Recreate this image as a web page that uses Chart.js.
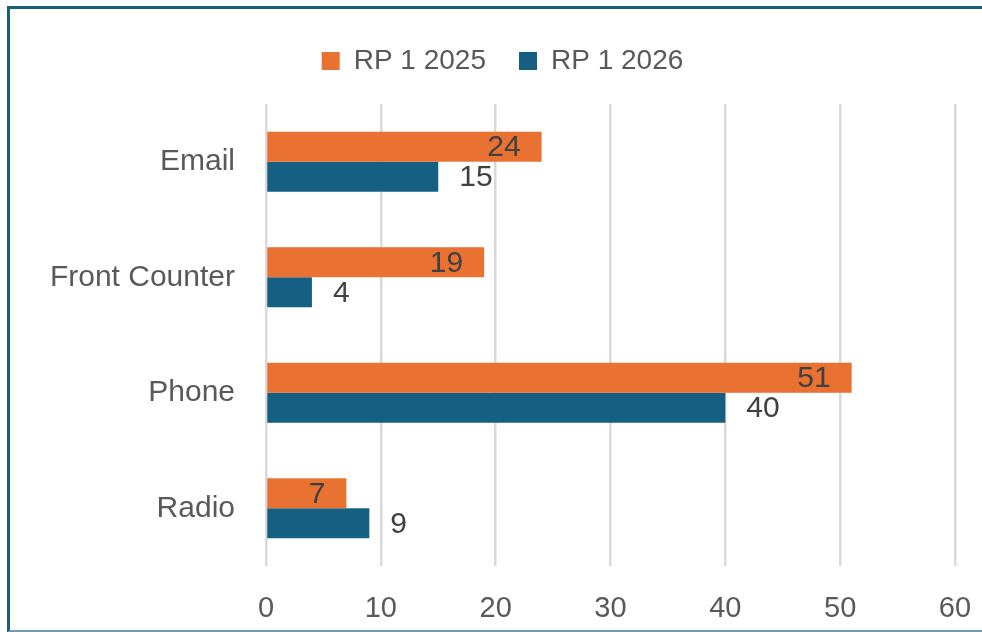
<!DOCTYPE html>
<html>
<head>
<meta charset="utf-8">
<script src="https://cdn.jsdelivr.net/npm/chart.js@4/dist/chart.umd.min.js"></script>
<style>
  html, body { margin: 0; padding: 0; background: #fff; overflow: hidden; width: 982px; height: 632px; }
  #frame {
    position: absolute; left: 7px; top: 6px; width: 1005px; height: 621px;
    border-left: 3px solid #1B5E80; border-top: 3px solid #1B5E80; border-bottom: 2px solid #7397AD;
  }
  canvas { display: block; }
</style>
</head>
<body>
<div id="frame"><canvas id="c" width="1005" height="621"></canvas></div>
<script>
// Contact channels, two reporting periods
const categories = ['Email', 'Front Counter', 'Phone', 'Radio'];
const seriesNames = ['RP 1 2025', 'RP 1 2026'];
const rp2025 = [24, 19, 51, 7];
const rp2026 = [15, 4, 40, 9];
const xTicks = [0, 10, 20, 30, 40, 50, 60];

const FONT = '"Liberation Sans", Arial, sans-serif';
const AXIS_COLOR = '#595959';
const LABEL_COLOR = '#404040';

// Extra space under the legend
const legendSpacer = {
  id: 'legendSpacer',
  beforeInit(chart) {
    const fit = chart.legend.fit;
    chart.legend.fit = function () {
      fit.call(this);
      this.height += 19;
    };
  }
};

// Value labels: inside end for the first series, outside end for the second
const valueLabels = {
  id: 'valueLabels',
  afterDatasetsDraw(chart) {
    const ctx = chart.ctx;
    ctx.save();
    ctx.font = '30px ' + FONT;
    ctx.fillStyle = LABEL_COLOR;
    ctx.textBaseline = 'middle';
    chart.data.datasets.forEach((ds, i) => {
      chart.getDatasetMeta(i).data.forEach((bar, j) => {
        const v = ds.data[j];
        if (i === 0) {
          ctx.textAlign = 'right';
          ctx.fillText(String(v), bar.x - 21, bar.y + 1);
        } else {
          ctx.textAlign = 'left';
          ctx.fillText(String(v), bar.x + 21, bar.y + 1);
        }
      });
    });
    ctx.restore();
  }
};

new Chart(document.getElementById('c'), {
  type: 'bar',
  data: {
    labels: categories,
    datasets: [
      { label: seriesNames[0], data: rp2025, backgroundColor: '#E97132' },
      { label: seriesNames[1], data: rp2026, backgroundColor: '#156082' }
    ]
  },
  options: {
    indexAxis: 'y',
    responsive: false,
    devicePixelRatio: 1,
    animation: false,
    categoryPercentage: 0.52,
    barPercentage: 1.0,
    layout: { padding: { left: 40, right: 60, top: 5, bottom: 0 } },
    plugins: {
      tooltip: { enabled: false },
      legend: {
        position: 'top',
        labels: {
          boxWidth: 18, boxHeight: 18, padding: 33,
          color: AXIS_COLOR, font: { family: FONT, size: 28 }
        }
      }
    },
    scales: {
      x: {
        min: 0, max: 60,
        afterBuildTicks(scale) { scale.ticks = xTicks.map(v => ({ value: v })); },
        afterFit(scale) { scale.height = 64; },
        ticks: { color: AXIS_COLOR, font: { family: FONT, size: 29 }, padding: 26 },
        grid: { color: '#D9D9D9', lineWidth: 2.5, drawTicks: false },
        border: { display: false }
      },
      y: {
        afterFit(scale) { scale.width = 216; },
        ticks: { color: AXIS_COLOR, font: { family: FONT, size: 30 }, padding: 31 },
        grid: { display: false, drawTicks: false },
        border: { display: false }
      }
    }
  },
  plugins: [legendSpacer, valueLabels]
});
</script>
</body>
</html>
